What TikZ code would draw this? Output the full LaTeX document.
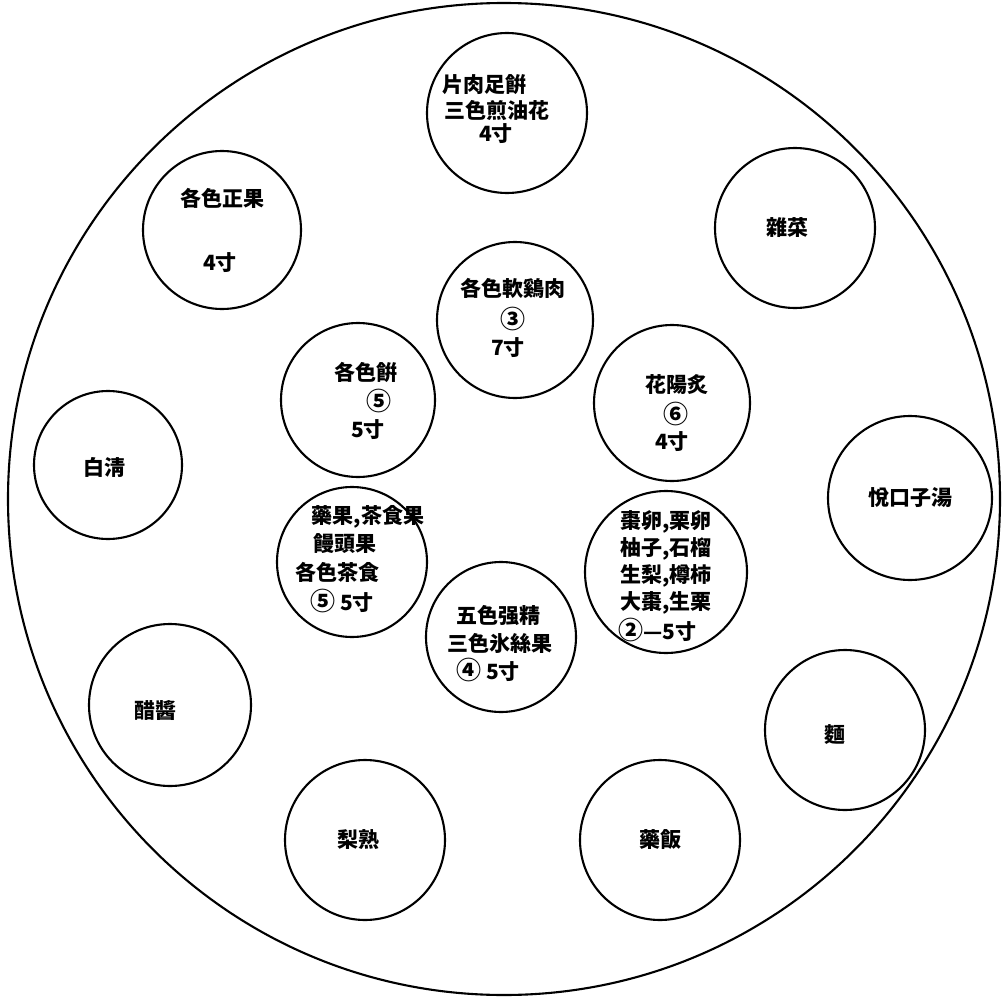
\documentclass[tikz,border=0pt]{standalone}
\usepackage{fontspec}
\newfontfamily\cjk{Noto Sans CJK KR}
\newcommand{\circnum}[1]{{\fontsize{25}{25}\selectfont #1}}
\begin{document}
\begin{tikzpicture}[x=1pt,y=-1pt,
  dish/.style={draw,line width=2.1pt,circle,inner sep=0pt},
  lbl/.style={font=\cjk\bfseries\fontsize{21}{25}\selectfont,inner sep=0pt,align=center}]
\useasboundingbox (0,0) rectangle (1007,998);
\node[dish,minimum size=992pt] (table) at (504,499) {};
% outer ring
\node[dish,minimum size=160pt] (c1) at (507,113) {};
\node[dish,minimum size=158pt] (c2) at (222,230) {};
\node[dish,minimum size=160pt] (c3) at (795,228) {};
\node[dish,minimum size=148pt] (c7) at (108,465) {};
\node[dish,minimum size=164pt] (c8) at (910,498) {};
\node[dish,minimum size=162pt] (c12) at (170,705) {};
\node[dish,minimum size=160pt] (c13) at (845,730) {};
\node[dish,minimum size=160pt] (c14) at (365,840) {};
\node[dish,minimum size=160pt] (c15) at (660,840) {};
% inner
\node[dish,minimum size=156pt] (c4) at (515,320) {};
\node[dish,minimum size=154pt] (c5) at (358,400) {};
\node[dish,minimum size=156pt] (c6) at (672,403) {};
\node[dish,minimum size=150pt] (c9) at (352,562) {};
\node[dish,minimum size=162pt] (c10) at (666,572) {};
\node[dish,minimum size=150pt] (c11) at (501,637) {};
% labels
\node[lbl] (t1a) at (484,85) {片肉足餠};
\node[lbl] (t1b) at (497,110) {三色煎油花};
\node[lbl] (t1c) at (496,134) {4寸};
\node[lbl] (t2a) at (222,198) {各色正果};
\node[lbl] (t2b) at (220,263) {4寸};
\node[lbl] (t3) at (787,228) {雜菜};
\node[lbl] (t4a) at (513,288) {各色軟鷄肉};
\node[lbl] (t4b) at (513,319) {\circnum{③}};
\node[lbl] (t4c) at (508,348) {7寸};
\node[lbl] (t5a) at (366,372) {各色餠};
\node[lbl] (t5b) at (379,401) {\circnum{⑤}};
\node[lbl] (t5c) at (368,430) {5寸};
\node[lbl] (t6a) at (677,385) {花陽炙};
\node[lbl] (t6b) at (676,414) {\circnum{⑥}};
\node[lbl] (t6c) at (672,442) {4寸};
\node[lbl] (t7) at (104,467) {白淸};
\node[lbl] (t8) at (910,498) {悅口子湯};
\node[lbl] (t9a) at (368,517) {藥果,茶食果};
\node[lbl] (t9b) at (345,544) {饅頭果};
\node[lbl] (t9c) at (337,572) {各色茶食};
\node[lbl] (t9d) at (342,601) {\circnum{⑤} 5寸};
\node[lbl] (t10a) at (666,522) {棗卵,栗卵};
\node[lbl] (t10b) at (666,549) {柚子,石榴};
\node[lbl] (t10c) at (666,576) {生梨,樽柿};
\node[lbl] (t10d) at (666,603) {大棗,生栗};
\node[lbl] (t10e) at (657,630) {\circnum{②}—5寸};
\node[lbl] (t11a) at (498,616) {五色强精};
\node[lbl] (t11b) at (500,643) {三色氷絲果};
\node[lbl] (t11c) at (488,670) {\circnum{④} 5寸};
\node[lbl] (t12) at (155,710) {醋醬};
\node[lbl] (t13) at (835,735) {麵};
\node[lbl] (t14) at (358,840) {梨熟};
\node[lbl] (t15) at (660,840) {藥飯};
\end{tikzpicture}
\end{document}
